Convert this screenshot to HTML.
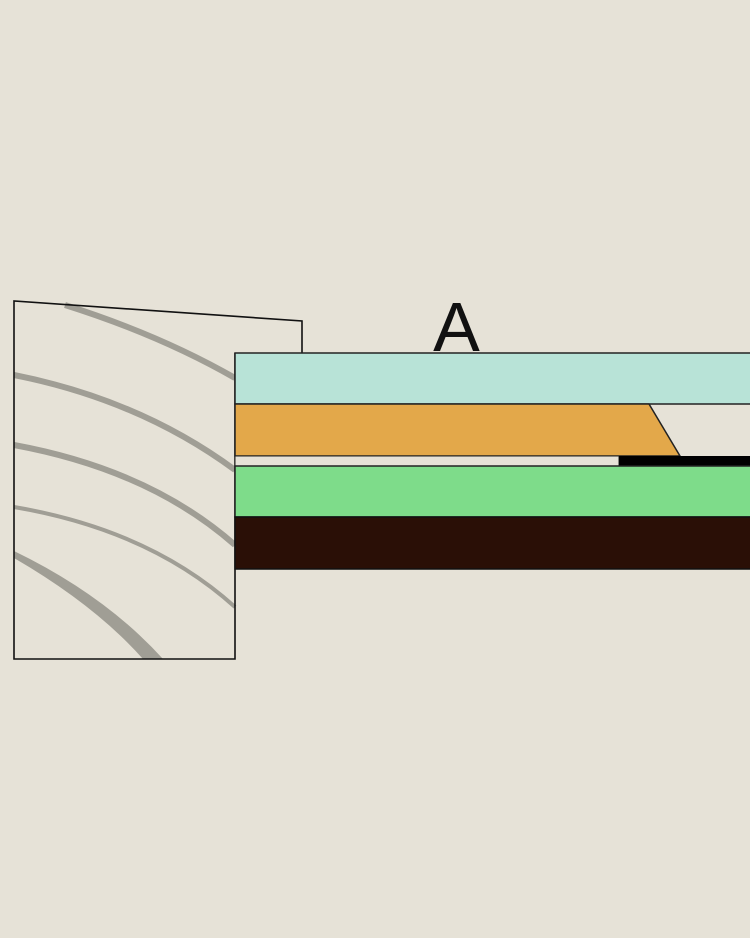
<!DOCTYPE html>
<html><head><meta charset="utf-8"><style>
html,body{margin:0;padding:0;background:#e6e2d7;}
svg{display:block}
</style></head><body>
<svg width="750" height="938" viewBox="0 0 750 938" xmlns="http://www.w3.org/2000/svg">
<rect width="750" height="938" fill="#e6e2d7"/>
<!-- grain curves -->
<g fill="none" stroke="#a09e95" stroke-linecap="butt">
<path d="M65,305 Q160,335 235,378" stroke-width="6"/>
<path d="M14,375 Q140,400 235,470" stroke-width="6"/>
<path d="M14,445 Q150,470 235,545" stroke-width="6"/>
<path d="M14,507 Q150,530 235,607" stroke-width="4"/>
</g>
<path d="M14,551 Q105,595 163,659 L143,659 Q95,605 14,558 Z" fill="#a09e95"/>
<!-- frame -->
<polyline points="302,353 302,321 14,301 14,659 235,659 235,353" fill="none" stroke="#111" stroke-width="1.6"/>
<!-- layers -->
<rect x="235" y="353" width="520" height="51" fill="#b8e3d7" stroke="#222" stroke-width="1.5"/>
<polygon points="235,404 649,404 680,456 235,456" fill="#e3a84a" stroke="#222" stroke-width="1.5"/>
<rect x="235" y="456" width="384" height="10" fill="#e6e2d7" stroke="#222" stroke-width="1"/>
<rect x="619" y="456" width="131" height="10" fill="#000"/>
<rect x="235" y="466" width="520" height="51" fill="#7edc8a" stroke="#222" stroke-width="1.5"/>
<rect x="235" y="517" width="520" height="52" fill="#2a0f06" stroke="#111" stroke-width="1.5"/>
<text x="456.5" y="351" text-anchor="middle" font-family="Liberation Sans, sans-serif" font-size="70" fill="#111">A</text>
</svg>
</body></html>
